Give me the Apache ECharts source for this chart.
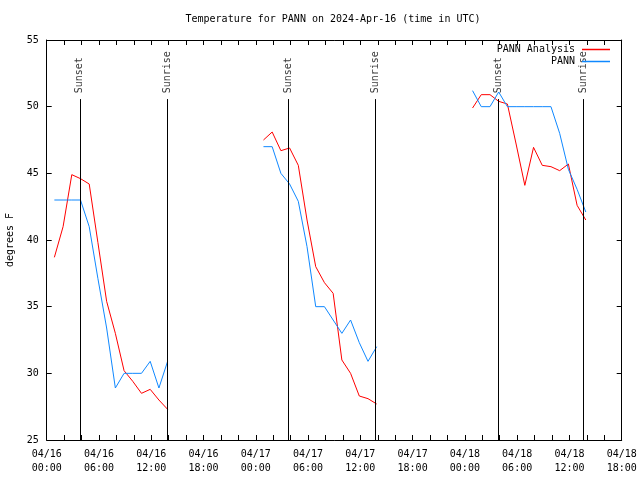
<!DOCTYPE html>
<html>
<head>
<meta charset="utf-8">
<script src="https://cdn.jsdelivr.net/npm/echarts@6/dist/echarts.min.js"></script>
<style>html,body{margin:0;padding:0;background:#fff;}#c{width:640px;height:480px;}</style>
</head>
<body>
<div id="c"></div>
<script>
// Hours since 2024-04-16 00:00 UTC
const day1Hours = [0.88, 1.88, 2.88, 3.88, 4.88, 5.88, 6.88, 7.88, 8.88, 9.88, 10.88, 11.88, 12.88, 13.88];
const day2Hours = [24.88, 25.88, 26.88, 27.88, 28.88, 29.88, 30.88, 31.88, 32.88, 33.88, 34.88, 35.88, 36.88, 37.88];
const day3Hours = [48.88, 49.88, 50.88, 51.88, 52.88, 53.88, 54.88, 55.88, 56.88, 57.88, 58.88, 59.88, 60.88, 61.88];

const analysisDay1 = [38.7, 41.0, 44.9, 44.6, 44.2, 39.8, 35.4, 33.0, 30.2, 29.4, 28.5, 28.8, 28.0, 27.3];
const analysisDay2 = [47.5, 48.1, 46.7, 46.9, 45.6, 41.5, 38.0, 36.8, 36.0, 31.0, 30.0, 28.3, 28.1, 27.7];
const analysisDay3 = [49.9, 50.9, 50.9, 50.4, 50.2, 47.2, 44.1, 46.95, 45.6, 45.5, 45.2, 45.7, 42.6, 41.5];

const obsDay1 = [43.0, 43.0, 43.0, 43.0, 41.0, 37.1, 33.4, 28.9, 30.0, 30.0, 30.0, 30.9, 28.9, 30.9];
const obsDay2 = [47.0, 47.0, 45.0, 44.2, 42.9, 39.5, 35.0, 35.0, 34.0, 33.0, 34.0, 32.3, 30.9, 32.0];
const obsDay3 = [51.2, 50.0, 50.0, 51.1, 50.0, 50.0, 50.0, 50.0, 50.0, 50.0, 48.0, 45.3, 43.8, 42.1];

const sunsetHours = [3.8, 27.78, 51.8];
const sunriseHours = [13.84, 37.72, 61.62];
const eventLineTop = 50.57;
const eventLabelBase = 51.0;

const FONT = 'DejaVu Sans Mono';
const RED = '#ff0000';
const BLUE = '#0f88ff';

function pairs(hours, vals) { return hours.map((h, i) => [h, vals[i]]); }

function fmtX(v) {
  if (v % 6 !== 0) return '';
  const d = 16 + Math.floor(v / 24);
  const h = v % 24;
  return '04/' + d + '\n' + (h < 10 ? '0' + h : '' + h) + ':00';
}

const lineSeries = (name, color, data) => ({
  name: name, type: 'line', data: data, showSymbol: false, symbol: 'none',
  lineStyle: { color: color, width: 1 }, itemStyle: { color: color },
  animation: false, silent: true
});

const events = [];
const eventLines = [];
sunsetHours.forEach(h => { events.push([h, eventLabelBase, 'Sunset']); eventLines.push([{ coord: [h, 25] }, { coord: [h, eventLineTop] }]); });
sunriseHours.forEach(h => { events.push([h, eventLabelBase, 'Sunrise']); eventLines.push([{ coord: [h, 25] }, { coord: [h, eventLineTop] }]); });

const chart = echarts.init(document.getElementById('c'), null, { renderer: 'canvas' });
chart.setOption({
  animation: false,
  backgroundColor: '#fff',
  textStyle: { fontFamily: FONT, color: '#000' },
  title: {
    text: 'Temperature for PANN on 2024-Apr-16 (time in UTC)',
    left: 333, top: 14, textAlign: 'center', padding: 0,
    textStyle: { fontFamily: FONT, fontSize: 10, fontWeight: 'normal', color: '#000' }
  },
  legend: {
    data: ['PANN Analysis', 'PANN'],
    orient: 'vertical', right: 30, top: 44, align: 'right', padding: 0,
    icon: 'rect', itemWidth: 28, itemHeight: 1.5, itemGap: 1,
    textStyle: { fontFamily: FONT, fontSize: 10, color: '#000', lineHeight: 11, padding: [0, 2, 0, 0] },
    selectedMode: false
  },
  grid: { left: 46.7, right: 18.3, top: 40, bottom: 40, containLabel: false, outerBoundsMode: 'none' },
  xAxis: [{
    type: 'value', min: 0, max: 66, interval: 2, position: 'bottom',
    axisLine: { show: true, onZero: false, lineStyle: { color: '#000', width: 1 } },
    axisTick: { show: true, inside: true, length: 5, lineStyle: { color: '#000' } },
    axisLabel: { formatter: fmtX, fontFamily: FONT, fontSize: 10, color: '#000', margin: 7, lineHeight: 14, showMinLabel: true, showMaxLabel: true },
    splitLine: { show: false }
  }, {
    type: 'value', min: 0, max: 66, interval: 2, position: 'top',
    axisLine: { show: true, onZero: false, lineStyle: { color: '#000', width: 1 } },
    axisTick: { show: true, inside: true, length: 5, lineStyle: { color: '#000' } },
    axisLabel: { show: false }, splitLine: { show: false }
  }],
  yAxis: [{
    type: 'value', min: 25, max: 55, interval: 5, position: 'left',
    name: 'degrees F', nameLocation: 'middle', nameGap: 30, nameRotate: 90,
    nameTextStyle: { fontFamily: FONT, fontSize: 10, color: '#000' },
    axisLine: { show: true, onZero: false, lineStyle: { color: '#000', width: 1 } },
    axisTick: { show: true, inside: true, length: 5, lineStyle: { color: '#000' } },
    axisLabel: { fontFamily: FONT, fontSize: 10, color: '#000', margin: 8 },
    splitLine: { show: false }
  }, {
    type: 'value', min: 25, max: 55, interval: 5, position: 'right',
    axisLine: { show: true, onZero: false, lineStyle: { color: '#000', width: 1 } },
    axisTick: { show: true, inside: true, length: 5, lineStyle: { color: '#000' } },
    axisLabel: { show: false }, splitLine: { show: false }
  }],
  series: [
    {
      name: 'events', type: 'scatter', data: events, symbolSize: 0, silent: true, animation: false,
      label: { show: true, position: 'inside', rotate: 90, align: 'left', verticalAlign: 'middle',
        formatter: p => p.data[2], fontFamily: FONT, fontSize: 10, color: '#000' },
      markLine: { symbol: 'none', silent: true, animation: false, label: { show: false },
        lineStyle: { color: '#000', width: 1, type: 'solid' }, data: eventLines }
    },
    lineSeries('PANN Analysis', RED, pairs(day1Hours, analysisDay1)),
    lineSeries('PANN Analysis', RED, pairs(day2Hours, analysisDay2)),
    lineSeries('PANN Analysis', RED, pairs(day3Hours, analysisDay3)),
    lineSeries('PANN', BLUE, pairs(day1Hours, obsDay1)),
    lineSeries('PANN', BLUE, pairs(day2Hours, obsDay2)),
    lineSeries('PANN', BLUE, pairs(day3Hours, obsDay3))
  ]
});
</script>
</body>
</html>
